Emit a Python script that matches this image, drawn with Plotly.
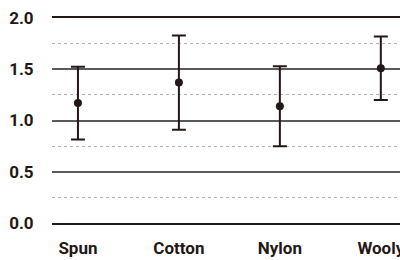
import plotly.graph_objects as go

categories = ["Spun", "Cotton", "Nylon", "Wooly"]
means = [1.17, 1.37, 1.14, 1.51]
errors = [0.355, 0.46, 0.39, 0.31]
y_ticks = [0.0, 0.5, 1.0, 1.5, 2.0]
y_tick_labels = ["0.0", "0.5", "1.0", "1.5", "2.0"]

dark = "#231815"

fig = go.Figure(
    go.Scatter(
        x=categories,
        y=means,
        mode="markers",
        marker=dict(color=dark, size=8),
        error_y=dict(type="data", array=errors, visible=True,
                     color=dark, thickness=2, width=7),
        showlegend=False,
        cliponaxis=False,
        hoverinfo="skip",
    )
)

fig.update_layout(
    width=400, height=260,
    margin=dict(l=52, r=0, t=18, b=37, autoexpand=False),
    paper_bgcolor="white", plot_bgcolor="white",
    font=dict(family="Roboto", size=17, color=dark, weight="bold"),
)
fig.update_xaxes(
    type="category", range=[-0.257, 3.19], automargin=False,
    showgrid=False, zeroline=False,
    showline=True, mirror=True, linecolor=dark, linewidth=1.5,
    ticks="outside", ticklen=9, tickcolor="rgba(0,0,0,0)",
)
fig.update_yaxes(
    range=[0, 2], tickvals=y_ticks, ticktext=y_tick_labels, automargin=False,
    showgrid=True, gridcolor="#5a5a5a", gridwidth=1.5,
    zeroline=False, showline=False,
    ticks="outside", ticklen=14, tickcolor="rgba(0,0,0,0)",
    minor=dict(dtick=0.25, showgrid=True, gridcolor="#b0b0b0",
               gridwidth=1, griddash="3px,3px"),
)

fig.write_html("out.html", config={"displayModeBar": False},
               post_script="document.body.style.margin='0';document.body.style.overflow='hidden';")
